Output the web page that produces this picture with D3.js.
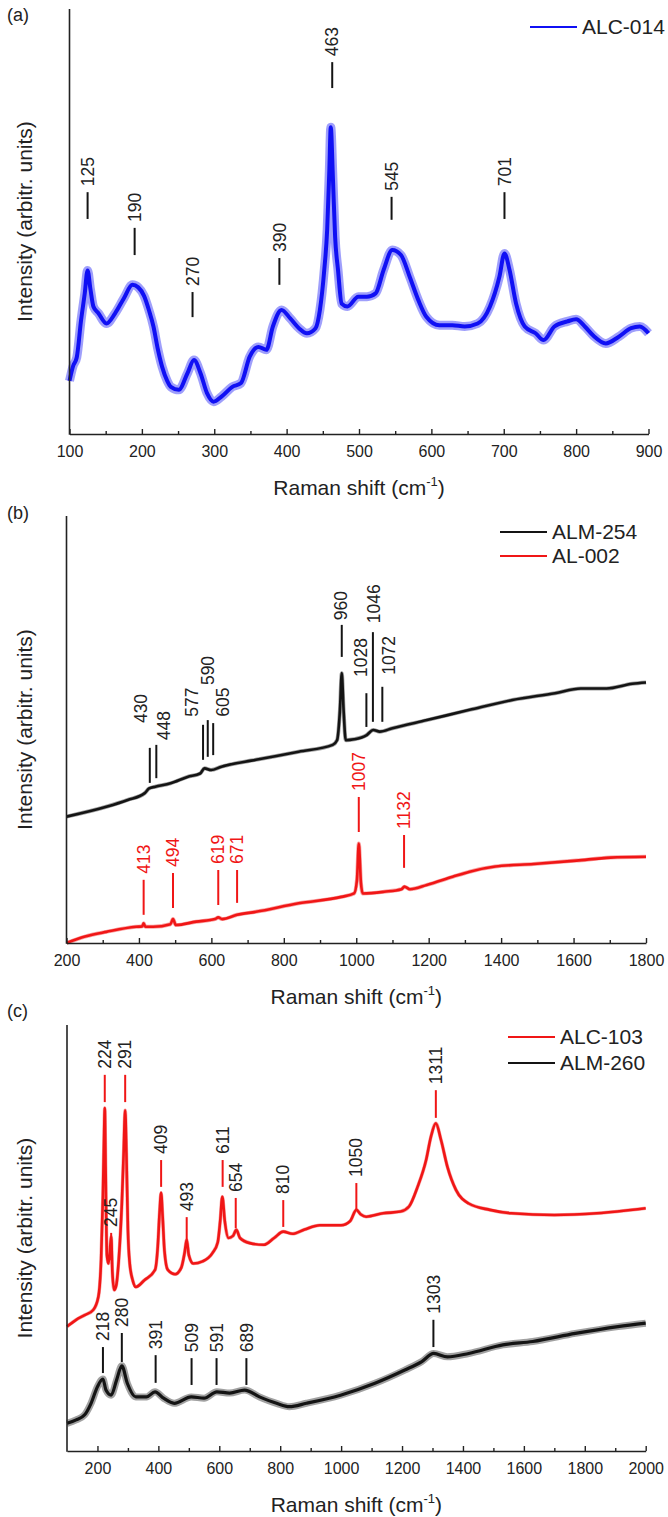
<!DOCTYPE html>
<html>
<head>
<meta charset="utf-8">
<script src="https://cdn.jsdelivr.net/npm/d3@7"></script>
<style>
  html, body { margin: 0; padding: 0; background: #fff; }
  svg { display: block; font-family: "Liberation Sans", Arial, sans-serif; }
</style>
</head>
<body>
<svg id="fig" width="668" height="1517"></svg>
<script>
// ---------- data: [Raman shift (cm-1), relative intensity 0-100] ----------

// (a) ALC-014
const alc014 = [[100,12.5],[105,16],[110,18],[116,26.8],[121,33],[125,38.5],[129,34],[133,30],[140,28.4],[151,26],[163,28.4],[175,31.9],[187,35.1],[195,34.5],[203,32.5],[210,29],[216,25.3],[222,20],[228,15.8],[235,12.5],[240,11.1],[251,10.4],[263,14.3],[272,17.4],[281,14.3],[290,9.6],[299,7.6],[310,8.8],[325,11.1],[337,12],[349,18.2],[361,20.5],[372,19.8],[381,25.3],[393,29.2],[405,27.2],[417,24.9],[428,23.7],[440,24.9],[446,29.2],[452,38.6],[456,48],[459,62],[461,72.2],[464,60],[467,46.4],[471,38.6],[476,30.7],[484,30],[499,32.3],[511,32.3],[523,33.1],[534,38.6],[546,43.3],[558,42.1],[570,37],[582,31.5],[593,27.6],[611,25.6],[629,25.6],[646,25.3],[664,26],[681,30],[694,37],[701,42.5],[708,38.6],[717,30.7],[729,25.3],[744,23.7],[755,22.1],[770,25.3],[788,26.5],[800,27],[812,25.3],[824,23.1],[841,21.3],[859,22.9],[876,24.9],[888,25.3],[900,23.7]];
// band markers: [position, marker bottom, marker top]
const alc014Peaks = [[125,50.6,56.9],[190,42.1,48.5],[270,27.5,33.4],[390,35.1,41.4],[463,81.4,87.5],[545,50.4,55.8],[701,50.6,56.9]];

// (b) ALM-254 and AL-002
const alm254 = [[200,29.6],[310,31.9],[369,33.5],[416,35.1],[428,36.2],[445,36.6],[487,37.4],[534,38.9],[569,39.7],[581,40.9],[599,40.5],[628,41.3],[723,42.9],[841,44.8],[935,46.4],[947,47.5],[955,54.6],[960,63.2],[965,54.6],[971,47.5],[994,47.7],[1029,48.7],[1047,49.9],[1065,49.5],[1100,50.3],[1195,52.2],[1313,54.6],[1431,56.9],[1549,58.5],[1620,59.6],[1691,59.6],[1762,60.7],[1800,61.0]];
const alm254Peaks = [[430,37.5,45.7],[448,38.6,46.4],[577,42.9,51.1],[590,43.6,52.2],[605,44.0,51.5],[960,67.0,74.5],[1028,50.6,58.5],[1046,51.8,72.8],[1072,51.8,60.0]];
// crowded labels: [band, label centre, label bottom]
const alm254LabelAt = [[430,406,51.5],[448,468,47.5],[577,547,53.0],[590,589,60.4],[605,632,53.0],[960,957,75.6],[1028,1013,62.3],[1046,1049,74.9],[1072,1090,62.8]];
const al002 = [[200,0],[251,1.5],[310,2.6],[392,3.8],[409,3.9],[413,4.6],[418,3.8],[439,3.8],[487,4.4],[494,5.6],[502,4.2],[558,5.0],[610,5.6],[619,6.0],[630,5.6],[671,6.6],[723,7.3],[841,9.3],[959,10.8],[994,11.6],[1002,14.8],[1007,23.3],[1013,14.0],[1018,11.6],[1077,12.0],[1125,12.6],[1133,13.2],[1148,12.6],[1195,13.6],[1266,15.5],[1313,16.7],[1384,17.9],[1490,18.5],[1608,19.3],[1702,20.0],[1800,20.2]];
const al002Peaks = [[413,6.6,14.8],[494,8.2,16.4],[619,8.9,17.1],[671,9.4,17.1],[1007,26.0,34.2],[1132,17.6,25.3]];

// (c) ALC-103 and ALM-260
const alc103 = [[100,29.2],[130,30.8],[158,31.9],[186,33.1],[203,36.2],[212,45],[218,60],[222,75],[224,80.5],[227,65],[231,46],[236,44],[241,47],[245,50.3],[249,42],[255,37.8],[262,39],[270,45],[280,58],[286,70],[291,80],[295,70],[300,52],[306,44],[316,40],[326,38.5],[354,40.1],[389,42.5],[398,48],[404,56],[409,60.6],[414,55],[420,47],[431,42.5],[455,41.5],[475,43],[486,46.5],[493,49.5],[500,46],[515,44],[545,44.5],[578,46.5],[595,49],[603,54],[610,59.7],[618,54],[630,50],[645,50.5],[656,51.9],[668,50],[700,48.8],[746,48.4],[780,50],[810,51.5],[840,51],[880,52],[930,53],[1000,53],[1030,54],[1050,56.6],[1065,55.5],[1082,55],[1138,55.8],[1195,56.2],[1223,57.4],[1251,62],[1279,68.3],[1295,73.8],[1311,76.9],[1328,73],[1349,66.7],[1377,61.3],[1419,58.1],[1489,56.6],[1559,55.8],[1700,55.4],[1840,55.8],[2000,57]];
const alc103Peaks = [[224,81.9,88.3],[245,44.8,51.2],[291,81.9,88.3],[409,62.0,68.3],[493,48.8,54.9],[611,62.0,68.3],[654,52.3,59.4],[810,52.6,58.9],[1050,56.6,62.9],[1311,78.2,84.7]];
const alm260 = [[100,6.5],[130,7.3],[158,8.5],[179,11.2],[200,15.1],[218,16.9],[228,14.3],[245,13.1],[263,16.7],[280,20],[298,15.9],[326,12.7],[361,12.7],[389,13.9],[417,12.4],[452,11.2],[508,12.7],[550,12.4],[592,13.9],[634,13.6],[683,14.3],[732,12.7],[788,11.2],[830,10.4],[886,11.2],[998,13.1],[1111,15.9],[1209,19],[1265,21],[1304,22.9],[1349,22.1],[1419,22.9],[1531,24.9],[1629,25.7],[1769,27.6],[1909,29.2],[2000,30]];
const alm260Peaks = [[218,18.3,24.4],[280,20.9,27.7],[391,16.0,22.5],[509,15.5,21.8],[591,15.5,21.8],[689,15.5,21.8],[1303,24.4,30.8]];

// axis tick values
const ticksA = [100,200,300,400,500,600,700,800,900];
const minorA = [150,250,350,450,550,650,750,850];
const ticksB = [200,400,600,800,1000,1200,1400,1600,1800];
const minorB = [300,500,700,900,1100,1300,1500,1700];
const ticksC = [200,400,600,800,1000,1200,1400,1600,1800,2000];
const minorC = [300,500,700,900,1100,1300,1500,1700,1900];

// ---------- drawing ----------
const svg = d3.select("#fig");
const BLUE = "#1010f4", RED = "#f01616", BLACK = "#141414", INK = "#222";

function panel(cfg) {
  const g = svg.append("g");
  const x = d3.scaleLinear().domain(cfg.domain).range([cfg.left, cfg.right]);
  const y = d3.scaleLinear().domain([0, 100]).range([cfg.bottom, cfg.top]);

  // panel letter
  g.append("text").attr("x", 7).attr("y", cfg.letterY)
    .attr("font-size", 18).attr("fill", INK).text(cfg.letter);

  // spectra (a wide faint pass under a solid core gives the noisy band)
  const line = d3.line().curve(d3.curveMonotoneX).x(d => x(d[0])).y(d => y(d[1]));
  cfg.series.forEach(s => {
    if (s.halo) {
      g.append("path").datum(s.data).attr("d", line)
        .attr("fill", "none").attr("stroke", s.color)
        .attr("stroke-width", s.halo).attr("stroke-opacity", 0.4)
        .attr("stroke-linejoin", "round");
    }
    g.append("path").datum(s.data).attr("d", line)
      .attr("fill", "none").attr("stroke", s.color)
      .attr("stroke-width", s.width).attr("stroke-linejoin", "round");
  });

  // band markers with rotated labels
  cfg.peaks.forEach(p => {
    const place = new Map((p.labelAt || []).map(d => [d[0], d]));
    p.list.forEach(([pos, lo, hi]) => {
      g.append("line")
        .attr("x1", x(pos)).attr("x2", x(pos))
        .attr("y1", y(lo)).attr("y2", y(hi))
        .attr("stroke", p.color).attr("stroke-width", 2);
      const at = place.get(pos);
      const tx = at ? x(at[1]) : x(pos);
      const ty = at ? y(at[2]) : y(hi) - 6;
      g.append("text")
        .attr("transform", `translate(${tx},${ty}) rotate(-90)`)
        .attr("dy", "0.35em").attr("font-size", 17.5)
        .attr("fill", p.textColor || p.color).text(pos);
    });
  });

  // x axis: labelled ticks and unlabelled minor ticks, pointing inward
  const ax = g.append("g").attr("transform", `translate(0,${cfg.bottom})`)
    .call(d3.axisBottom(x).tickValues(cfg.ticks).tickFormat(d3.format("d"))
      .tickSizeInner(-5).tickSizeOuter(0).tickPadding(12));
  ax.select(".domain").attr("stroke", INK).attr("stroke-width", 1.6);
  ax.selectAll(".tick line").attr("stroke", INK).attr("stroke-width", 1.4);
  ax.selectAll(".tick text").attr("font-size", 16).attr("fill", INK)
    .attr("font-family", "'Liberation Sans', Arial, sans-serif");
  const mx = g.append("g").attr("transform", `translate(0,${cfg.bottom})`)
    .call(d3.axisBottom(x).tickValues(cfg.minor).tickFormat("")
      .tickSizeInner(-3).tickSizeOuter(0));
  mx.select(".domain").remove();
  mx.selectAll(".tick line").attr("stroke", INK).attr("stroke-width", 1.4);

  // y axis line (no ticks)
  g.append("line").attr("x1", cfg.left).attr("x2", cfg.left)
    .attr("y1", cfg.top).attr("y2", cfg.bottom + 0.8)
    .attr("stroke", INK).attr("stroke-width", 1.6);

  // axis titles
  const xt = g.append("text").attr("x", (cfg.left + cfg.right) / 2)
    .attr("y", cfg.bottom + 61).attr("text-anchor", "middle")
    .attr("font-size", 21).attr("fill", INK);
  xt.append("tspan").text("Raman shift (cm");
  xt.append("tspan").attr("font-size", 13).attr("dy", -9).text("-1");
  xt.append("tspan").attr("dy", 9).text(")");

  g.append("text")
    .attr("transform", `translate(32,${(cfg.top + cfg.bottom) / 2}) rotate(-90)`)
    .attr("text-anchor", "middle").attr("font-size", 21).attr("fill", INK)
    .text("Intensity (arbitr. units)");

  // legend
  cfg.legend.forEach((l, i) => {
    const ly = cfg.legendY + i * cfg.legendStep;
    g.append("line").attr("x1", cfg.legendX).attr("x2", cfg.legendX + 47)
      .attr("y1", ly).attr("y2", ly).attr("stroke", l.color).attr("stroke-width", 2.2);
    g.append("text").attr("x", cfg.legendX + 52).attr("y", ly).attr("dy", "0.35em")
      .attr("font-size", 21).attr("fill", INK).text(l.name);
  });
}

panel({
  letter: "(a)", letterY: 21,
  left: 69.5, right: 648.5, top: 9, bottom: 434, domain: [100, 900],
  ticks: ticksA, minor: minorA,
  series: [{ data: alc014, color: BLUE, width: 4, halo: 9 }],
  peaks: [{ list: alc014Peaks, color: BLACK, textColor: INK }],
  legend: [{ name: "ALC-014", color: BLUE }],
  legendX: 530, legendY: 27, legendStep: 24
});

panel({
  letter: "(b)", letterY: 519,
  left: 66.5, right: 646, top: 516, bottom: 943, domain: [200, 1800],
  ticks: ticksB, minor: minorB,
  series: [
    { data: alm254, color: BLACK, width: 2.6, halo: 4 },
    { data: al002, color: RED, width: 2.6, halo: 4 }
  ],
  peaks: [
    { list: alm254Peaks, labelAt: alm254LabelAt, color: BLACK, textColor: INK },
    { list: al002Peaks, color: RED }
  ],
  legend: [{ name: "ALM-254", color: BLACK }, { name: "AL-002", color: RED }],
  legendX: 500, legendY: 532, legendStep: 24
});

panel({
  letter: "(c)", letterY: 1017,
  left: 67, right: 645.7, top: 1025, bottom: 1451, domain: [100, 2000],
  ticks: ticksC, minor: minorC,
  series: [
    { data: alc103, color: RED, width: 2.6, halo: 3.6 },
    { data: alm260, color: BLACK, width: 3.2, halo: 7 }
  ],
  peaks: [
    { list: alc103Peaks, color: RED, textColor: INK },
    { list: alm260Peaks, color: BLACK, textColor: INK }
  ],
  legend: [{ name: "ALC-103", color: RED }, { name: "ALM-260", color: BLACK }],
  legendX: 508, legendY: 1037, legendStep: 26
});
</script>
</body>
</html>
